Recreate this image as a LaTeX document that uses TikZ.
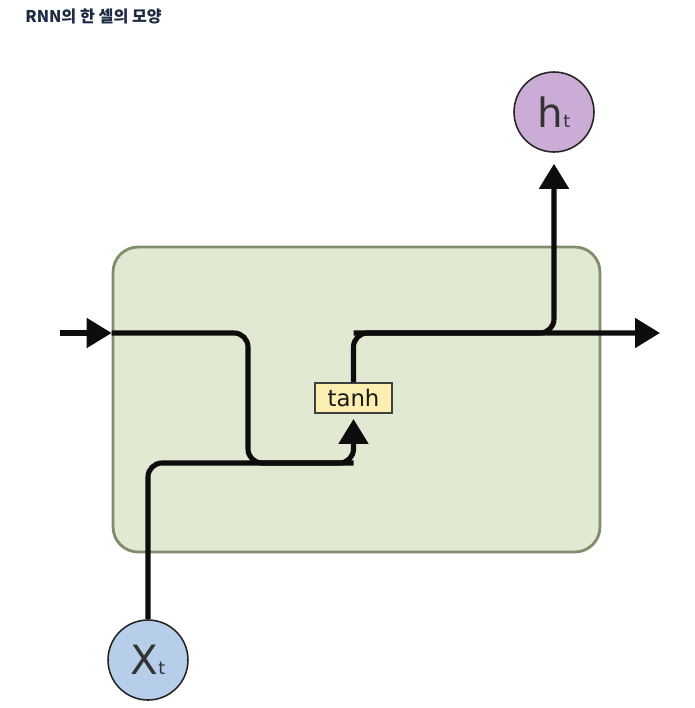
\documentclass[tikz,border=0pt]{standalone}
\usepackage{fontspec}
\setmainfont{DejaVu Sans}
\newfontfamily\krfont{Noto Sans CJK KR}
\usetikzlibrary{arrows.meta,positioning,calc}
\definecolor{cellfill}{RGB}{225,233,210}
\definecolor{celldraw}{RGB}{128,142,108}
\definecolor{tanhfill}{RGB}{250,238,176}
\definecolor{xfill}{RGB}{182,206,234}
\definecolor{hfill}{RGB}{202,172,214}
\definecolor{ttl}{RGB}{30,42,68}
\tikzset{
  cell/.style={draw=celldraw,line width=1.6pt,fill=cellfill,rounded corners=0.5cm,minimum width=9.74cm,minimum height=6.1cm},
  gate/.style={draw=black!75,line width=0.8pt,fill=tanhfill,minimum width=1.54cm,minimum height=0.6cm,inner sep=0pt,font=\fontsize{13}{13}\selectfont,text=black!90},
  vec/.style={circle,draw=black!85,line width=0.9pt,fill=#1,minimum size=1.6cm,inner sep=0pt,font=\fontsize{23}{23}\selectfont,text=black!80},
  wire/.style={line width=2.9pt,rounded corners=0.28cm,black!95},
  arr/.style={wire,-{Triangle[length=0.5cm,width=0.58cm]}},
}

\begin{document}
\begin{tikzpicture}[x=0.02cm,y=-0.02cm]
 \useasboundingbox (0,0) rectangle (695,708);
 \node[anchor=west,inner sep=0pt,font=\krfont\bfseries\fontsize{9.2}{10}\selectfont,text=ttl] (title) at (25,16) {RNN의 한 셀의 모양};
 % cell and gate
 \node[cell] (cell) at (356.5,399.5) {};
 \node[gate] (tanh) at (353.5,398) {tanh};
 \node[vec=xfill] (xt) at (148,660) {X{\fontsize{10}{10}\selectfont t}};
 \node[vec=hfill] (ht) at (554,112) {h{\fontsize{10}{10}\selectfont t}};
 \coordinate (in) at (60,333);
 \coordinate (out) at (660,333);
 \coordinate (mid) at (0,463);
 \coordinate (lft) at (248,0);
 % wires
 \draw[arr] (in) -- (cell.west|-in);
 \draw[wire] (cell.west|-in) -- (lft|-in) -- (lft|-mid) -- (tanh|-mid);
 \draw[arr,shorten >=3pt] (xt) -- (xt|-mid) -- (tanh|-mid) -- (tanh.south);
 \draw[arr] (tanh) -- (tanh|-in) -- (out);
 \draw[arr,shorten >=0.22cm] (tanh|-in) -- (ht|-in) -- (ht);
\end{tikzpicture}
\end{document}
